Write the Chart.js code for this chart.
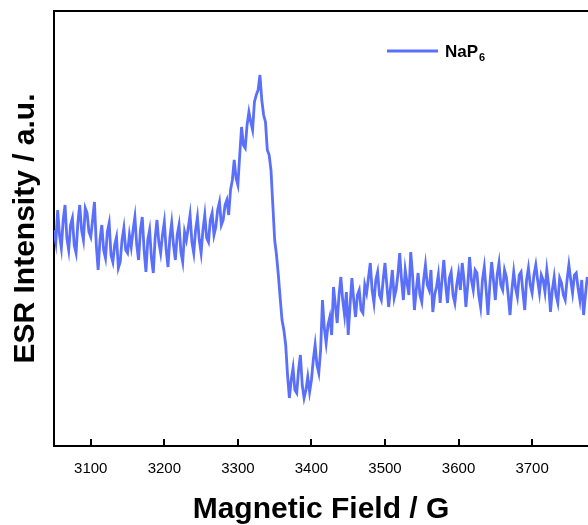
<!DOCTYPE html>
<html>
<head>
<meta charset="utf-8">
<script src="https://cdn.jsdelivr.net/npm/chart.js@4.4.1/dist/chart.umd.min.js"></script>
<style>
html, body { margin: 0; padding: 0; background: #fff; overflow: hidden; }
#wrap { width: 588px; height: 525px; }
</style>
</head>
<body>
<div id="wrap"><canvas id="esrChart" width="588" height="525"></canvas></div>
<script>
// Champ magnétique (G) et intensité ESR (u.a.)
const fieldG = [
  3050, 3052.5, 3055, 3057.5, 3060, 3062.5, 3065, 3067.5, 3070, 3072.5,
  3075, 3077.5, 3080, 3082.5, 3085, 3087.5, 3090, 3092.5, 3095, 3097.5,
  3100, 3102.5, 3105, 3107.5, 3110, 3112.5, 3115, 3117.5, 3120, 3122.5,
  3125, 3127.5, 3130, 3132.5, 3135, 3137.5, 3140, 3142.5, 3145, 3147.5,
  3150, 3152.5, 3155, 3157.5, 3160, 3162.5, 3165, 3167.5, 3170, 3172.5,
  3175, 3177.5, 3180, 3182.5, 3185, 3187.5, 3190, 3192.5, 3195, 3197.5,
  3200, 3202.5, 3205, 3207.5, 3210, 3212.5, 3215, 3217.5, 3220, 3222.5,
  3225, 3227.5, 3230, 3232.5, 3235, 3237.5, 3240, 3242.5, 3245, 3247.5,
  3250, 3252.5, 3255, 3257.5, 3260, 3262.5, 3265, 3267.5, 3270, 3272.5,
  3275, 3277.5, 3280, 3282.5, 3285, 3287.5, 3290, 3292.5, 3295, 3297.5,
  3300, 3302.5, 3305, 3307.5, 3310, 3312.5, 3315, 3317.5, 3320, 3322.5,
  3325, 3327.5, 3330, 3332.5, 3335, 3337.5, 3340, 3342.5, 3345, 3347.5,
  3350, 3352.5, 3355, 3357.5, 3360, 3362.5, 3365, 3367.5, 3370, 3372.5,
  3375, 3377.5, 3380, 3382.5, 3385, 3387.5, 3390, 3392.5, 3395, 3397.5,
  3400, 3402.5, 3405, 3407.5, 3410, 3412.5, 3415, 3417.5, 3420, 3422.5,
  3425, 3427.5, 3430, 3432.5, 3435, 3437.5, 3440, 3442.5, 3445, 3447.5,
  3450, 3452.5, 3455, 3457.5, 3460, 3462.5, 3465, 3467.5, 3470, 3472.5,
  3475, 3477.5, 3480, 3482.5, 3485, 3487.5, 3490, 3492.5, 3495, 3497.5,
  3500, 3502.5, 3505, 3507.5, 3510, 3512.5, 3515, 3517.5, 3520, 3522.5,
  3525, 3527.5, 3530, 3532.5, 3535, 3537.5, 3540, 3542.5, 3545, 3547.5,
  3550, 3552.5, 3555, 3557.5, 3560, 3562.5, 3565, 3567.5, 3570, 3572.5,
  3575, 3577.5, 3580, 3582.5, 3585, 3587.5, 3590, 3592.5, 3595, 3597.5,
  3600, 3602.5, 3605, 3607.5, 3610, 3612.5, 3615, 3617.5, 3620, 3622.5,
  3625, 3627.5, 3630, 3632.5, 3635, 3637.5, 3640, 3642.5, 3645, 3647.5,
  3650, 3652.5, 3655, 3657.5, 3660, 3662.5, 3665, 3667.5, 3670, 3672.5,
  3675, 3677.5, 3680, 3682.5, 3685, 3687.5, 3690, 3692.5, 3695, 3697.5,
  3700, 3702.5, 3705, 3707.5, 3710, 3712.5, 3715, 3717.5, 3720, 3722.5,
  3725, 3727.5, 3730, 3732.5, 3735, 3737.5, 3740, 3742.5, 3745, 3747.5,
  3750, 3752.5, 3755, 3757.5, 3760, 3762.5, 3765, 3767.5, 3770, 3772.5,
  3775
];
const intensity = [
  // 3050 - 3097.5
  20, 8, 40, 15, 2, 30, 45, 12, 0, 25, 32, 5, -3, 28, 45, 20, 10, 42, 37, 18,
  // 3100 - 3147.5
  13, 30, 48, 5, -20, 10, 25, 0, -8, 18, 27, -5, -12, 5, 13, -18, -12, 10, 22, 0,
  // 3150 - 3197.5
  -3, 15, 3, 20, 33, 5, -10, 20, 33, 0, -22, 10, 20, -8, -23, 12, 30, 8, -3, 15,
  // 3200 - 3247.5
  28, 0, -17, 12, 27, 5, -10, 15, 25, -2, -12, 18, 10, 22, 35, 8, -3, 20, 33, 10,
  // 3250 - 3297.5
  -3, 20, 35, 12, 8, 30, 37, 15, 23, 40, 48, 25, 30, 45, 50, 35, 60, 70, 90, 72,
  // 3300 - 3347.5
  65, 95, 123, 105, 102, 125, 138, 128, 120, 148, 155, 160, 175, 150, 135, 128, 100, 95, 80, 45,
  // 3350 - 3397.5
  10, -5, -25, -48, -70, -80, -95, -125, -148, -130, -118, -140, -143, -120, -105, -135, -148, -140, -127, -142,
  // 3400 - 3447.5
  -130, -110, -95, -115, -123, -100, -50, -78, -93, -75, -67, -85, -37, -55, -73, -45, -27, -50, -65, -42,
  // 3450 - 3497.5
  -85, -55, -28, -50, -67, -45, -40, -60, -63, -35, -43, -28, -13, -40, -53, -30, -22, -45, -50, -30,
  // 3500 - 3547.5
  -13, -35, -57, -38, -20, -48, -40, -25, -3, -30, -50, -20, -33, -45, -2, -25, -60, -40, -23, -45,
  // 3550 - 3597.5
  -52, -30, -15, -35, -40, -20, -62, -45, -37, -25, -53, -30, -10, -35, -53, -28, -22, -45, -53, -35,
  // 3600 - 3647.5
  -23, -40, -13, -30, -57, -35, -7, -30, -40, -20, -23, -45, -57, -30, -17, -40, -65, -35, -12, -30,
  // 3650 - 3697.5
  -50, -25, -13, -35, -40, -20, -27, -45, -65, -40, -22, -38, -47, -25, -22, -42, -60, -30, -18, -35,
  // 3700 - 3747.5
  -43, -25, -15, -30, -43, -25, -30, -42, -20, -35, -62, -40, -27, -45, -53, -28, -33, -45, -50, -30,
  // 3750 - 3775
  -15, -30, -43, -25, -23, -38, -50, -30, -65, -45, -27
];
const xTicks = [3100, 3200, 3300, 3400, 3500, 3600, 3700];
const seriesName = 'NaP';
const seriesSub = '6';

const lineColor = '#5a6ffa';
const fontFamily = '"Liberation Sans", Arial, Helvetica, sans-serif';

// Cadre du haut, graduations intérieures et légende
const framePlugin = {
  id: 'frame',
  afterDraw(chart) {
    const { ctx, chartArea: a, scales: { x } } = chart;
    ctx.save();
    ctx.strokeStyle = '#000';
    ctx.lineWidth = 2;
    ctx.beginPath();
    ctx.moveTo(a.left - 1, a.top);
    ctx.lineTo(a.right, a.top);
    xTicks.forEach(v => {
      const px = Math.round(x.getPixelForValue(v));
      ctx.moveTo(px, a.bottom);
      ctx.lineTo(px, a.bottom - 7);
    });
    ctx.stroke();

    // légende
    ctx.strokeStyle = lineColor;
    ctx.lineWidth = 3;
    ctx.beginPath();
    ctx.moveTo(387, 51);
    ctx.lineTo(438, 51);
    ctx.stroke();
    ctx.fillStyle = '#000';
    ctx.textBaseline = 'middle';
    ctx.font = 'bold 17px ' + fontFamily;
    ctx.fillText(seriesName, 445, 52);
    const w = ctx.measureText(seriesName).width;
    ctx.font = 'bold 11px ' + fontFamily;
    ctx.fillText(seriesSub, 445 + w + 1, 58);
    ctx.restore();
  }
};

const ctx = document.getElementById('esrChart').getContext('2d');
new Chart(ctx, {
  type: 'line',
  data: {
    datasets: [{
      label: seriesName + seriesSub,
      data: fieldG.map((g, i) => ({ x: g, y: intensity[i] })),
      borderColor: lineColor,
      borderWidth: 2.8,
      pointRadius: 0,
      tension: 0,
      fill: false
    }]
  },
  options: {
    responsive: false,
    animation: false,
    layout: { padding: { top: 11, right: 0, left: 0, bottom: 0 } },
    plugins: {
      legend: { display: false },
      tooltip: { enabled: false }
    },
    scales: {
      x: {
        type: 'linear',
        min: 3050,
        max: 3776,
        afterBuildTicks: s => { s.ticks = xTicks.map(v => ({ value: v })); },
        afterFit: s => { s.height = 79; },
        ticks: {
          color: '#000',
          padding: 14,
          maxRotation: 0,
          autoSkip: false,
          font: { family: fontFamily, size: 15 },
          callback: v => String(v)
        },
        grid: { display: true, drawOnChartArea: false, drawTicks: false },
        border: { display: true, color: '#000', width: 2 },
        title: {
          display: true,
          text: 'Magnetic Field / G',
          color: '#000',
          font: { family: fontFamily, size: 30, weight: 'bold' },
          padding: { top: 0, bottom: -3 }
        }
      },
      y: {
        min: -196,
        max: 239,
        afterFit: s => { s.width = 54; },
        ticks: { display: false },
        grid: { display: true, drawOnChartArea: false, drawTicks: false },
        border: { display: true, color: '#000', width: 2 },
        title: {
          display: true,
          text: 'ESR Intensity / a.u.',
          color: '#000',
          font: { family: fontFamily, size: 30, weight: 'bold' },
          padding: { top: 8, bottom: 0 }
        }
      }
    }
  },
  plugins: [framePlugin]
});
</script>
</body>
</html>
